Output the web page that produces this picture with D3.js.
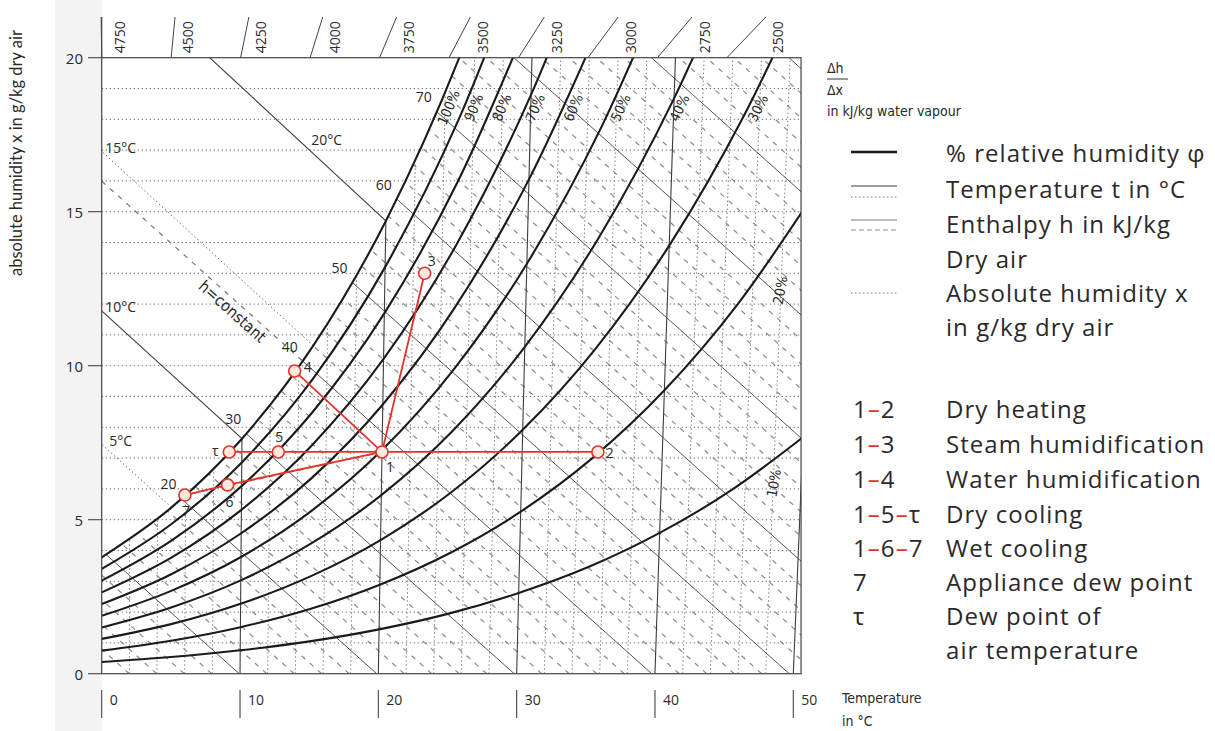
<!DOCTYPE html>
<html>
<head>
<meta charset="utf-8">
<script src="https://cdn.jsdelivr.net/npm/d3@7"></script>
<style>
  body { margin: 0; background: #fff; }
  svg text { font-family: "Open Sans", sans-serif; fill: #2a2a2a; }
  svg text.narrow { font-family: "Liberation Sans Narrow", "DejaVu Sans Condensed", sans-serif; }
  svg text.title { font-family: Lato, "Liberation Sans", sans-serif; }
</style>
</head>
<body>
<svg id="chart" width="1215" height="731"></svg>
<script>
// ---- data ----
const temps = [0, 5, 10, 15, 20, 25, 30, 35, 40, 45, 50];          // °C
const rhLevels = [100, 90, 80, 70, 60, 50, 40, 30, 20, 10];          // %
// absolute humidity x (g/kg) of each rh curve at the temperatures above
const rh100 = [3.78, 5.40, 7.63, 10.65, 14.70, 20.09, 27.21];
const rh90 = [3.40, 4.86, 6.86, 9.57, 13.20, 18.02, 24.38];
const rh80 = [3.02, 4.32, 6.09, 8.49, 11.70, 15.97, 21.58];
const rh70 = [2.64, 3.77, 5.32, 7.42, 10.22, 13.93, 18.80, 25.17];
const rh60 = [2.26, 3.23, 4.56, 6.35, 8.74, 11.90, 16.05, 21.45];
const rh50 = [1.88, 2.69, 3.79, 5.28, 7.26, 9.88, 13.31, 17.77, 23.52];
const rh40 = [1.50, 2.15, 3.03, 4.22, 5.80, 7.88, 10.61, 14.14, 18.68, 24.49];
const rh30 = [1.13, 1.61, 2.27, 3.16, 4.34, 5.89, 7.92, 10.54, 13.90, 18.19, 23.61];
const rh20 = [0.75, 1.07, 1.51, 2.10, 2.89, 3.92, 5.26, 6.99, 9.20, 12.01, 15.54];
const rh10 = [0.38, 0.54, 0.76, 1.05, 1.44, 1.95, 2.62, 3.47, 4.57, 5.95, 7.68];
const rhValues = [rh100, rh90, rh80, rh70, rh60, rh50, rh40, rh30, rh20, rh10];

const tempTicks = [0, 10, 20, 30, 40, 50];
const humTicks = [0, 5, 10, 15, 20];
const enthalpyLabels = [20, 30, 40, 50, 60, 70];                     // kJ/kg
const fogIsotherms = [5, 10, 15, 20];                                // °C
const dhdxValues = [4750, 4500, 4250, 4000, 3750, 3500, 3250, 3000, 2750, 2500];

// process points
const pointNames = ['1', '2', '3', '4', '5', 'τ', '6', '7'];
const pointTemp = [20, 35.4, 22.8, 13.7, 12.6, 9.1, 9.0, 5.95];
const pointHum = [7.2, 7.2, 13.0, 9.83, 7.2, 7.2, 6.13, 5.8];
const processLines = [['1', '2'], ['1', '3'], ['1', '4'], ['1', '5'], ['5', 'τ'], ['1', '6'], ['6', '7']];
const dashedProcess = [['1', '7']];

const legendLabels = ['% relative humidity φ', 'Temperature t in °C', 'Enthalpy h in kJ/kg', 'Dry air',
  'Absolute humidity x', 'in g/kg dry air'];
const processKeys = ['1–2', '1–3', '1–4', '1–5–τ', '1–6–7', '7', 'τ', ''];
const processNames = ['Dry heating', 'Steam humidification', 'Water humidification', 'Dry cooling',
  'Wet cooling', 'Appliance dew point', 'Dew point of', 'air temperature'];

// ---- scales ----
const RED = '#e2342a';
const svg = d3.select('#chart');
const X = d3.scaleLinear().domain([0, 50]).range([101.7, 793.3]);   // "equivalent" temperature
const Y = d3.scaleLinear().domain([0, 20]).range([673.7, 57.7]);    // g/kg
const tEqMax = 50.56;

// Mollier chart: isotherms lean with x, isenthalps are oblique straight lines
const teq = (t, x) => t * (1 + 1.849 * x / 1000);
const teqH = (h, x) => (h - 2.501 * x) / 1.006;

svg.append('rect').attr('x', 55).attr('y', 0).attr('width', X(0) - 55).attr('height', 731).attr('fill', '#f3f3f3');

const defs = svg.append('defs');
defs.append('clipPath').attr('id', 'plotClip').append('rect')
  .attr('x', X(0)).attr('y', Y(20))
  .attr('width', X(tEqMax) - X(0)).attr('height', Y(0) - Y(20));

const rhLine = d3.line()
  .x(d => X(teq(d[0], d[1])))
  .y(d => Y(d[1]))
  .curve(d3.curveMonotoneX);

const rhSeries = rhLevels.map((lv, i) => ({level: lv, pts: rhValues[i].map((x, j) => [temps[j], x])}));
const satD = rhLine(rhSeries[0].pts);

defs.append('clipPath').attr('id', 'unsatClip').append('path')
  .attr('d', satD + `L${X(80)},${Y(30)}L${X(80)},${Y(-2)}L${X(-2)},${Y(-2)}L${X(-2)},${Y(rh100[0])}Z`);

const plot = svg.append('g').attr('clip-path', 'url(#plotClip)');
plot.append('rect').attr('x', X(0)).attr('y', Y(20)).attr('width', X(tEqMax) - X(0))
  .attr('height', Y(0) - Y(20)).attr('fill', '#fff');
const unsat = plot.append('g').attr('clip-path', 'url(#unsatClip)');

const dotted = sel => sel.attr('stroke', '#777').attr('stroke-width', 1).attr('stroke-dasharray', '1.4,2.6').attr('fill', 'none');
const thin = sel => sel.attr('stroke', '#3c3c3c').attr('stroke-width', 1.1).attr('fill', 'none');
const dashed = sel => sel.attr('stroke', '#8a8a8a').attr('stroke-width', 1.2).attr('stroke-dasharray', '5,6').attr('fill', 'none');

// horizontal dotted lines, x every 1 g/kg
plot.append('g').selectAll('line').data(d3.range(1, 20)).enter().append('line')
  .attr('x1', X(0)).attr('x2', X(tEqMax)).attr('y1', d => Y(d)).attr('y2', d => Y(d))
  .call(dotted);

// dotted isotherms every 2 °C
unsat.append('g').selectAll('line').data(d3.range(2, 52, 2).filter(t => t % 10)).enter().append('line')
  .attr('x1', t => X(teq(t, 0))).attr('y1', Y(0))
  .attr('x2', t => X(teq(t, 22))).attr('y2', Y(22))
  .call(dotted);

// enthalpy lines every 2 kJ/kg, solid every 10
const hLines = d3.range(2, 102, 2);
unsat.append('g').selectAll('line').data(hLines.filter(h => h % 10)).enter().append('line')
  .attr('x1', h => X(teqH(h, 0))).attr('y1', Y(0))
  .attr('x2', h => X(teqH(h, 22))).attr('y2', Y(22))
  .call(dashed);
unsat.append('g').selectAll('line').data(hLines.filter(h => h % 10 === 0)).enter().append('line')
  .attr('x1', h => X(teqH(h, 0))).attr('y1', Y(0))
  .attr('x2', h => X(teqH(h, 22))).attr('y2', Y(22))
  .attr('stroke', '#555').attr('stroke-width', 1).attr('fill', 'none');

// solid isotherms
unsat.append('g').selectAll('line').data(tempTicks.slice(1)).enter().append('line')
  .attr('x1', t => X(teq(t, 0))).attr('y1', Y(0))
  .attr('x2', t => X(teq(t, 22))).attr('y2', Y(22))
  .call(thin);

// fog isotherms, from the saturation point up to the left border
const fogData = fogIsotherms.map(t => {
  const xs = rh100[temps.indexOf(t)];
  const us = 1.006 * t + 1.86 * t * xs / 1000;
  const xLeft = xs + us / (2.501 - 0.00419 * t);
  return {t, x1: X(teq(t, xs)), y1: Y(xs), x2: X(0), y2: Y(xLeft), xLeft, xs, us};
});
plot.append('g').selectAll('line').data(fogData).enter().append('line')
  .attr('x1', d => d.x1).attr('y1', d => d.y1).attr('x2', d => d.x2).attr('y2', d => d.y2)
  .each(function (d) {
    if (d.t % 10) d3.select(this).call(dotted).attr('stroke', '#666');
    else d3.select(this).call(thin);
  });

// relative humidity curves
const rhPaths = plot.append('g').selectAll('path').data(rhSeries).enter().append('path')
  .attr('d', d => rhLine(d.pts))
  .attr('fill', 'none').attr('stroke', '#1b1b1b').attr('stroke-width', 2.1);

// helpers to find points on the drawn curves
function pointAtY(node, yTarget) {
  let lo = 0, hi = node.getTotalLength();
  for (let k = 0; k < 40; k++) {
    const mid = (lo + hi) / 2;
    if (node.getPointAtLength(mid).y > yTarget) lo = mid; else hi = mid;
  }
  const p = node.getPointAtLength(lo), a = node.getPointAtLength(lo - 2), b = node.getPointAtLength(lo + 2);
  return {x: p.x, y: p.y, angle: Math.atan2(b.y - a.y, b.x - a.x) * 180 / Math.PI};
}
const satNode = rhPaths.nodes()[0];
function satPointForH(h) {
  let lo = 0, hi = satNode.getTotalLength();
  for (let k = 0; k < 40; k++) {
    const mid = (lo + hi) / 2;
    const p = satNode.getPointAtLength(mid);
    if (p.x < X(teqH(h, Y.invert(p.y)))) lo = mid; else hi = mid;
  }
  return satNode.getPointAtLength(lo);
}

// h = constant line through the fog region
const p40 = satPointForH(40);
plot.append('line').attr('x1', X(0)).attr('y1', Y(40 / 2.501)).attr('x2', p40.x).attr('y2', p40.y)
  .call(dashed).attr('stroke', '#777');
const hAngle = Math.atan2(p40.y - Y(40 / 2.501), p40.x - X(0)) * 180 / Math.PI;
const hx = 12.0;
svg.append('text').attr('class', 'narrow')
  .attr('transform', `translate(${X(teqH(40, hx))},${Y(hx)}) rotate(${hAngle})`)
  .attr('dy', 10).attr('text-anchor', 'middle').attr('dominant-baseline', 'central')
  .attr('font-size', 16).text('h=constant');

// ---- frame and axes ----
svg.append('rect').attr('x', X(0)).attr('y', Y(20)).attr('width', X(tEqMax) - X(0))
  .attr('height', Y(0) - Y(20)).attr('fill', 'none').attr('stroke', '#444').attr('stroke-width', 1.2);

// top Δh/Δx edge scale
const dhdx = d3.scaleLinear().domain([4750, 2500]).range([0, 45.2]);
const pole = [0.6, -0.92];
const xTop = Y.invert(17);
svg.append('line').attr('x1', X(0)).attr('x2', X(0)).attr('y1', Y(20)).attr('y2', Y(xTop))
  .attr('stroke', '#444').attr('stroke-width', 1.2);
const topScale = svg.append('g');
dhdxValues.forEach((v, i) => {
  const b = dhdx(v);
  const tt = pole[0] + (b - pole[0]) * (xTop - pole[1]) / (20 - pole[1]);
  topScale.append('line').attr('x1', X(b)).attr('y1', Y(20)).attr('x2', X(tt)).attr('y2', Y(xTop))
    .attr('stroke', '#444').attr('stroke-width', 1);
  topScale.append('text')
    .attr('transform', `translate(${X(tt) + (i === 0 ? 18 : 12)},${(Y(20) + Y(xTop)) / 2}) rotate(-90)`)
    .attr('text-anchor', 'middle').attr('dominant-baseline', 'central')
    .attr('font-size', 14).attr('fill', '#444').text(v);
});

// left axis
const yAxis = svg.append('g');
yAxis.selectAll('line').data(humTicks).enter().append('line')
  .attr('x1', 88).attr('x2', X(0)).attr('y1', d => Y(d)).attr('y2', d => Y(d))
  .attr('stroke', '#444').attr('stroke-width', 1.1);
yAxis.selectAll('text').data(humTicks).enter().append('text')
  .attr('x', 83).attr('y', d => Y(d)).attr('text-anchor', 'end').attr('dominant-baseline', 'central')
  .attr('font-size', 15).attr('fill', '#333').text(d => d);
svg.append('text').attr('class', 'title').attr('transform', `translate(16,153) rotate(-90)`)
  .attr('text-anchor', 'middle').attr('dominant-baseline', 'central')
  .attr('font-size', 16.5).attr('fill', '#333')
  .text('absolute humidity x in g/kg dry air');

// bottom axis
const xAxis = svg.append('g');
xAxis.selectAll('line').data(tempTicks).enter().append('line')
  .attr('x1', d => X(d)).attr('x2', d => X(d)).attr('y1', 690).attr('y2', 718)
  .attr('stroke', '#444').attr('stroke-width', 1.1);
xAxis.selectAll('text').data(tempTicks).enter().append('text')
  .attr('x', d => X(d) + 8).attr('y', 699).attr('dominant-baseline', 'central')
  .attr('font-size', 14).attr('fill', '#333').text(d => d);
svg.append('text').attr('class', 'narrow').attr('x', 842).attr('y', 703).attr('font-size', 14).attr('fill', '#333').text('Temperature');
svg.append('text').attr('class', 'narrow').attr('x', 842).attr('y', 726).attr('font-size', 14).attr('fill', '#333').text('in °C');

// ---- curve labels ----
const labelG = svg.append('g');
rhPaths.each(function (d) {
  let pos, angle;
  if (d.level >= 30) {
    const p = pointAtY(this, Y(18.5));
    const r = p.angle * Math.PI / 180;
    pos = [p.x - Math.sin(r) * 9, p.y + Math.cos(r) * 9];
    angle = p.angle;
  } else {
    const p = pointAtY(this, Y(d.level === 20 ? 12.45 : 6.19));
    pos = [p.x + 32, p.y];
    angle = -80;
  }
  labelG.append('text').attr('class', 'narrow')
    .attr('transform', `translate(${pos[0]},${pos[1]}) rotate(${angle})`)
    .attr('text-anchor', 'middle').attr('dominant-baseline', 'central')
    .attr('font-size', 14).text(d.level + '%');
});

enthalpyLabels.forEach(h => {
  const p = satPointForH(h);
  labelG.append('text').attr('x', p.x - 13).attr('y', p.y - 15)
    .attr('text-anchor', 'middle').attr('dominant-baseline', 'central')
    .attr('font-size', 14).text(h);
});

fogData.forEach(d => {
  const xl = Math.min(d.xLeft, 17.2);
  const lx = X((d.us - (2.501 - 0.00419 * d.t) * (xl - d.xs)) / 1.006);
  labelG.append('text').attr('x', lx + (d.t === 20 ? 24 : 19)).attr('y', Y(xl) - 4)
    .attr('text-anchor', 'middle').attr('dominant-baseline', 'central')
    .attr('font-size', 14).text(d.t + '°C');
});

// ---- process ----
const pt = {};
pointNames.forEach((n, i) => { pt[n] = [X(teq(pointTemp[i], pointHum[i])), Y(pointHum[i])]; });
const proc = svg.append('g');
proc.selectAll('line.dash').data(dashedProcess).enter().append('line')
  .attr('x1', d => pt[d[0]][0]).attr('y1', d => pt[d[0]][1])
  .attr('x2', d => pt[d[1]][0]).attr('y2', d => pt[d[1]][1])
  .attr('stroke', '#c0604f').attr('stroke-width', 1.3).attr('stroke-dasharray', '6,4');
proc.selectAll('line.solid').data(processLines).enter().append('line')
  .attr('x1', d => pt[d[0]][0]).attr('y1', d => pt[d[0]][1])
  .attr('x2', d => pt[d[1]][0]).attr('y2', d => pt[d[1]][1])
  .attr('stroke', RED).attr('stroke-width', 1.8);
proc.selectAll('circle').data(pointNames).enter().append('circle')
  .attr('cx', d => pt[d][0]).attr('cy', d => pt[d][1]).attr('r', 6)
  .attr('fill', '#fde9df').attr('stroke', RED).attr('stroke-width', 1.6);
const pointLabelOffset = {'1': [8, 15], '2': [12, 1], '3': [7, -13], '4': [13, -4], '5': [1, -15],
  'τ': [-14, -1], '6': [2, 17], '7': [1, 15]};
proc.selectAll('text').data(pointNames).enter().append('text')
  .attr('x', d => pt[d][0] + pointLabelOffset[d][0]).attr('y', d => pt[d][1] + pointLabelOffset[d][1])
  .attr('text-anchor', 'middle').attr('dominant-baseline', 'central')
  .attr('font-size', 14).text(d => d);

// ---- legend ----
const lg = svg.append('g');
lg.append('text').attr('class', 'narrow').attr('x', 827).attr('y', 73).attr('font-size', 14).text('Δh');
lg.append('line').attr('x1', 827).attr('x2', 848).attr('y1', 79).attr('y2', 79).attr('stroke', '#333');
lg.append('text').attr('class', 'narrow').attr('x', 827).attr('y', 95).attr('font-size', 14).text('Δx');
lg.append('text').attr('class', 'narrow').attr('x', 827).attr('y', 116).attr('font-size', 14).text('in kJ/kg water vapour');

const bigText = sel => sel.attr('dominant-baseline', 'central').attr('font-size', 24)
  .attr('letter-spacing', 1.05).attr('fill', '#222');
const rowY = [152, 188, 223, 258, 292, 326];
svg.append('g').selectAll('text').data(legendLabels).enter().append('text')
  .attr('x', 946).attr('y', (d, i) => rowY[i]).call(bigText).text(d => d);
const sw = svg.append('g');
const sample = (y) => sw.append('line').attr('x1', 851).attr('x2', 897).attr('y1', y).attr('y2', y);
sample(152).attr('stroke', '#1b1b1b').attr('stroke-width', 2.4);
sample(186).call(thin);
sample(197).call(dotted);
sample(220).attr('stroke', '#777').attr('stroke-width', 1.1);
sample(230).call(dashed).attr('stroke-dasharray', '5,3');
sample(293).call(dotted);

const procY = [408, 443, 478, 513, 547, 581, 615, 649];
const keyText = svg.append('g').selectAll('text').data(processKeys).enter().append('text')
  .attr('x', 853).attr('y', (d, i) => procY[i]).call(bigText);
keyText.each(function (d) {
  const t = d3.select(this);
  d.split('–').forEach((part, j) => {
    if (j > 0) t.append('tspan').attr('fill', RED).text('–');
    t.append('tspan').text(part);
  });
});
svg.append('g').selectAll('text').data(processNames).enter().append('text')
  .attr('x', 946).attr('y', (d, i) => procY[i]).call(bigText).text(d => d);
</script>
</body>
</html>
